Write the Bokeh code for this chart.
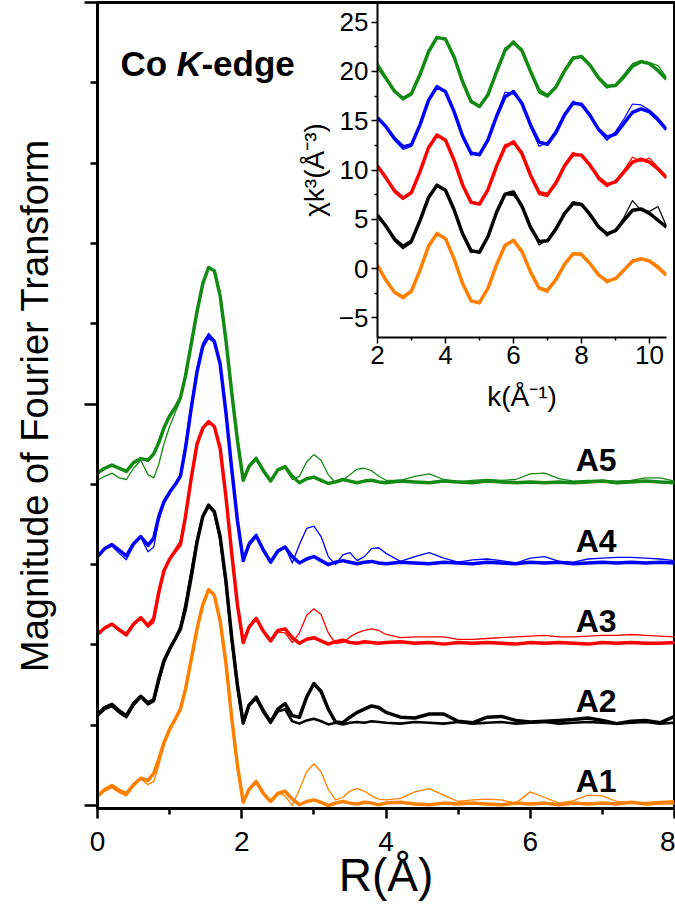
import numpy as np
from bokeh.plotting import figure
from bokeh.models import Range1d, FixedTicker, Label
from bokeh.layouts import column
from bokeh.embed import file_html
from bokeh.resources import INLINE
from bokeh.core.properties import value

FONT = "Liberation Sans"

# ---------------- main plot data: |FT| vs R (relative to each curve's baseline) ----------------
R = [0.0, 0.1, 0.2, 0.3, 0.4, 0.5, 0.6, 0.7, 0.78, 0.85, 0.92, 1.0, 1.08, 1.15, 1.22, 1.3, 1.38, 1.46, 1.54, 1.62,
     1.7, 1.78, 1.86, 1.94, 2.02,
     2.1, 2.2, 2.3, 2.4, 2.5, 2.6, 2.7, 2.8, 2.9, 3.0, 3.1, 3.2, 3.3, 3.4, 3.5, 3.6, 3.7, 3.8, 3.9, 4.0,
     4.2, 4.4, 4.6, 4.8, 5.0, 5.2, 5.4, 5.6, 5.8, 6.0, 6.2, 6.4, 6.6, 6.8, 7.0, 7.2, 7.4, 7.6, 7.8, 8.0]

A1_thick = [0.12, 0.2, 0.25, 0.19, 0.15, 0.26, 0.34, 0.31, 0.40, 0.58, 0.78, 0.95, 1.08, 1.2, 1.45, 1.82, 2.2, 2.5, 2.69, 2.62,
            2.3, 1.78, 1.1, 0.5, 0.04,
            0.2, 0.3, 0.15, 0.05, 0.15, 0.18, 0.08, 0.01, 0.05, 0.07, 0.04, 0.0, 0.03, 0.05, 0.03, 0.02, 0.04, 0.03, 0.01, 0.03,
            0.04, 0.02, 0.01, 0.03, 0.02, 0.03, 0.02, 0.01, 0.03, 0.02, 0.03, 0.01, 0.03, 0.02, 0.03, 0.02, 0.04, 0.02, 0.03, 0.03]
A1_thin = [0.1, 0.18, 0.22, 0.16, 0.12, 0.24, 0.33, 0.26, 0.30, 0.5, 0.74, 0.93, 1.07, 1.2, 1.47, 1.85, 2.22, 2.52, 2.7, 2.63,
           2.3, 1.78, 1.1, 0.5, 0.05,
           0.2, 0.28, 0.14, 0.06, 0.16, 0.12, 0.0, 0.2, 0.42, 0.52, 0.42, 0.2, 0.07, 0.1, 0.18, 0.21, 0.18, 0.12, 0.08, 0.07,
           0.09, 0.17, 0.21, 0.13, 0.05, 0.07, 0.08, 0.07, 0.03, 0.17, 0.1, 0.03, 0.06, 0.13, 0.12, 0.05, 0.03, 0.04, 0.05, 0.06]

A2_thick = [0.13, 0.22, 0.26, 0.18, 0.12, 0.27, 0.36, 0.28, 0.32, 0.58, 0.8, 0.95, 1.08, 1.2, 1.45, 1.85, 2.28, 2.6, 2.74, 2.66,
            2.35, 1.8, 1.1, 0.5, 0.03,
            0.25, 0.35, 0.18, 0.04, 0.2, 0.27, 0.12, 0.1, 0.35, 0.52, 0.42, 0.2, 0.04, 0.03, 0.1, 0.16, 0.2, 0.24, 0.22, 0.16,
            0.1, 0.09, 0.14, 0.14, 0.05, 0.03, 0.1, 0.11, 0.06, 0.04, 0.05, 0.06, 0.07, 0.09, 0.06, 0.02, 0.05, 0.06, 0.03, 0.11]
A2_thin = [0.12, 0.2, 0.24, 0.16, 0.1, 0.25, 0.35, 0.26, 0.3, 0.55, 0.78, 0.94, 1.08, 1.22, 1.5, 1.9, 2.3, 2.6, 2.73, 2.65,
           2.33, 1.78, 1.08, 0.48, 0.02,
           0.24, 0.33, 0.16, 0.03, 0.17, 0.2, 0.05, 0.02, 0.06, 0.08, 0.05, 0.01, 0.03, 0.01, 0.03, 0.04, 0.03, 0.05, 0.04, 0.03,
           0.02, 0.04, 0.03, 0.02, 0.04, 0.02, 0.03, 0.04, 0.02, 0.03, 0.04, 0.02, 0.03, 0.04, 0.03, 0.02, 0.03, 0.04, 0.02, 0.03]

A3_thick = [0.13, 0.21, 0.26, 0.19, 0.13, 0.26, 0.34, 0.24, 0.33, 0.66, 0.92, 1.07, 1.17, 1.25, 1.6, 2.08, 2.5, 2.7, 2.78, 2.72,
            2.45, 1.85, 1.15, 0.5, 0.03,
            0.22, 0.33, 0.17, 0.05, 0.18, 0.2, 0.09, 0.02, 0.07, 0.09, 0.05, 0.01, 0.04, 0.06, 0.03, 0.02, 0.04, 0.03, 0.02, 0.03,
            0.04, 0.02, 0.03, 0.01, 0.03, 0.02, 0.03, 0.02, 0.01, 0.03, 0.02, 0.03, 0.02, 0.01, 0.03, 0.02, 0.03, 0.02, 0.02, 0.03]
A3_thin = [0.12, 0.2, 0.25, 0.17, 0.11, 0.24, 0.33, 0.22, 0.28, 0.6, 0.9, 1.08, 1.2, 1.3, 1.62, 2.1, 2.5, 2.71, 2.79, 2.72,
           2.44, 1.84, 1.13, 0.49, 0.04,
           0.24, 0.34, 0.18, 0.06, 0.16, 0.15, 0.03, 0.15, 0.37, 0.45, 0.38, 0.15, 0.02, 0.03, 0.1, 0.15, 0.18, 0.2, 0.18, 0.13,
           0.09, 0.1, 0.1, 0.1, 0.07, 0.07, 0.08, 0.09, 0.1, 0.11, 0.12, 0.1, 0.1, 0.11, 0.12, 0.12, 0.13, 0.12, 0.11, 0.1]

A4_thick = [0.10, 0.2, 0.25, 0.18, 0.11, 0.26, 0.35, 0.24, 0.33, 0.6, 0.78, 0.9, 1.0, 1.1, 1.45, 1.95, 2.4, 2.72, 2.84, 2.78,
            2.5, 1.9, 1.2, 0.55, 0.05,
            0.25, 0.36, 0.18, 0.03, 0.17, 0.22, 0.1, 0.02, 0.07, 0.1, 0.05, 0.0, 0.03, 0.05, 0.03, 0.01, 0.03, 0.04, 0.02, 0.01,
            0.03, 0.02, 0.01, 0.03, 0.02, 0.01, 0.03, 0.02, 0.01, 0.03, 0.02, 0.03, 0.01, 0.02, 0.03, 0.02, 0.03, 0.02, 0.03, 0.02]
A4_thin = [0.09, 0.19, 0.23, 0.14, 0.06, 0.24, 0.34, 0.16, 0.22, 0.55, 0.76, 0.9, 1.02, 1.13, 1.5, 2.0, 2.45, 2.76, 2.88, 2.8,
           2.5, 1.88, 1.18, 0.53, 0.07,
           0.28, 0.38, 0.2, 0.05, 0.15, 0.22, 0.02, 0.25, 0.45, 0.48, 0.35, 0.1, 0.0, 0.12, 0.15, 0.05, 0.1, 0.2, 0.21, 0.14,
           0.04, 0.1, 0.15, 0.08, 0.03, 0.06, 0.07, 0.05, 0.02, 0.08, 0.1, 0.04, 0.03, 0.07, 0.08, 0.09, 0.09, 0.08, 0.07, 0.05]

A5_thick = [0.14, 0.2, 0.24, 0.2, 0.16, 0.27, 0.32, 0.3, 0.38, 0.52, 0.7, 0.85, 0.96, 1.08, 1.35, 1.75, 2.15, 2.5, 2.7, 2.66,
            2.35, 1.8, 1.15, 0.55, 0.05,
            0.22, 0.32, 0.17, 0.04, 0.18, 0.22, 0.1, 0.02, 0.07, 0.09, 0.05, 0.01, 0.03, 0.06, 0.04, 0.02, 0.04, 0.05, 0.03, 0.02,
            0.04, 0.03, 0.02, 0.04, 0.03, 0.02, 0.04, 0.03, 0.02, 0.03, 0.02, 0.03, 0.02, 0.03, 0.04, 0.02, 0.03, 0.04, 0.03, 0.02]
A5_thin = [0.05, 0.1, 0.14, 0.08, 0.06, 0.2, 0.3, 0.12, 0.08, 0.25, 0.5, 0.72, 0.9, 1.05, 1.33, 1.75, 2.15, 2.5, 2.7, 2.66,
           2.35, 1.8, 1.15, 0.55, 0.06,
           0.24, 0.34, 0.19, 0.06, 0.17, 0.2, 0.06, 0.1, 0.28, 0.37, 0.3, 0.12, 0.02, 0.05, 0.12, 0.19, 0.2, 0.17, 0.1, 0.05,
           0.05, 0.1, 0.13, 0.06, 0.03, 0.05, 0.06, 0.05, 0.06, 0.13, 0.14, 0.07, 0.04, 0.05, 0.05, 0.04, 0.05, 0.08, 0.08, 0.04]

SAMPLES = ["A1", "A2", "A3", "A4", "A5"]
OFFSETS = [0, 1, 2, 3, 4]
COLORS = ["#ff8000", "#000000", "#ff0000", "#0000ff", "#138a13"]
THICK = [A1_thick, A2_thick, A3_thick, A4_thick, A5_thick]
THIN = [A1_thin, A2_thin, A3_thin, A4_thin, A5_thin]

# ---------------- inset data: chi(k)*k^3 ----------------
K = [2.0, 2.25, 2.5, 2.75, 3.0, 3.25, 3.5, 3.75, 4.0, 4.25, 4.5, 4.75, 5.0, 5.25, 5.5, 5.75, 6.0, 6.25, 6.5, 6.75,
     7.0, 7.25, 7.5, 7.75, 8.0, 8.25, 8.5, 8.75, 9.0, 9.25, 9.5, 9.75, 10.0, 10.25, 10.5]

K_A1_thick = [0.3, -1.2, -2.4, -2.9, -2.28, -0.16, 2.26, 3.56, 3.03, 1.01, -1.49, -3.28, -3.46, -1.98, 0.37, 2.33, 2.86, 1.72,
              -0.34, -1.99, -2.19, -1.13, 0.43, 1.49, 1.42, 0.51, -0.64, -1.28, -1.03, -0.15, 0.73, 0.99, 0.75, 0.1, -0.7]
K_A1_thin = [0.5, -1.1, -2.5, -3.1, -2.4, -0.1, 2.3, 3.35, 3.1, 1.1, -1.5, -3.4, -3.6, -2.0, 0.5, 2.5, 2.7, 1.9,
             -0.2, -2.1, -2.45, -1.0, 0.6, 1.55, 1.6, 0.4, -0.5, -1.5, -0.9, -0.1, 0.9, 0.85, 0.9, 0.3, -0.5]
K_A2_thick = [5.4, 4.3, 3.0, 2.25, 2.80, 4.86, 7.20, 8.46, 7.94, 5.99, 3.55, 1.82, 1.66, 3.25, 5.69, 7.55, 7.76, 6.31,
              4.19, 2.74, 2.82, 4.02, 5.58, 6.6, 6.51, 5.49, 4.23, 3.52, 3.84, 4.92, 5.91, 6.05, 5.6, 4.9, 4.2]
K_A2_thin = [5.5, 4.2, 2.8, 2.0, 2.6, 4.9, 7.3, 8.3, 8.0, 6.1, 3.4, 1.6, 1.8, 3.3, 5.8, 7.5, 7.4, 6.5,
             4.3, 2.4, 2.9, 4.2, 5.5, 6.8, 6.6, 5.3, 4.4, 3.3, 3.9, 5.2, 6.9, 5.9, 5.8, 6.3, 4.3]
K_A3_thick = [10.4, 9.2, 7.9, 7.15, 7.72, 9.84, 12.26, 13.56, 13.03, 11.01, 8.51, 6.72, 6.54, 8.02, 10.37, 12.33, 12.86, 11.65,
              9.47, 7.73, 7.52, 8.69, 10.41, 11.58, 11.51, 10.49, 9.23, 8.52, 8.80, 9.8, 10.80, 11.09, 10.8, 10.1, 9.2]
K_A3_thin = [10.5, 9.1, 7.7, 7.0, 7.6, 9.9, 12.4, 13.4, 13.1, 11.1, 8.4, 6.6, 6.6, 8.1, 10.5, 12.6, 12.7, 11.9,
             9.4, 7.5, 7.3, 8.8, 10.6, 11.8, 11.4, 10.6, 9.0, 8.3, 8.9, 10.0, 11.3, 10.9, 11.2, 10.3, 9.4]
K_A4_thick = [15.3, 14.4, 13.2, 12.35, 12.58, 14.58, 17.07, 18.46, 17.94, 15.95, 13.48, 11.72, 11.55, 13.05, 15.43, 17.43, 17.96, 16.75,
              14.57, 12.83, 12.62, 13.82, 15.58, 16.78, 16.68, 15.54, 14.12, 13.33, 13.64, 14.75, 15.86, 16.2, 15.9, 15.1, 14.1]
K_A4_thin = [15.4, 14.3, 13.0, 12.1, 12.4, 14.6, 17.2, 18.3, 18.0, 16.1, 13.4, 11.5, 11.7, 13.2, 15.6, 17.9, 17.7, 16.9,
             14.4, 12.4, 12.8, 14.0, 15.7, 17.0, 16.5, 15.7, 14.0, 13.0, 13.9, 15.2, 16.7, 16.6, 16.1, 15.3, 14.2]
K_A5_thick = [20.5, 19.3, 18.0, 17.25, 17.76, 19.69, 22.0, 23.46, 23.28, 21.49, 18.98, 16.97, 16.44, 17.64, 19.95, 22.12, 23.0, 22.11,
              20.02, 18.08, 17.53, 18.43, 20.05, 21.35, 21.51, 20.64, 19.36, 18.49, 18.57, 19.47, 20.54, 21.0, 20.8, 20.1, 19.2]
K_A5_thin = [20.9, 19.5, 18.1, 17.1, 17.6, 19.8, 22.1, 23.3, 23.4, 21.6, 18.9, 16.8, 16.5, 17.8, 20.1, 22.4, 22.9, 22.3,
             19.9, 17.8, 17.4, 18.6, 20.2, 21.5, 21.4, 20.7, 19.2, 18.3, 18.7, 19.7, 20.8, 21.1, 20.9, 20.6, 19.4]

K_THICK = [K_A1_thick, K_A2_thick, K_A3_thick, K_A4_thick, K_A5_thick]
K_THIN = [K_A1_thin, K_A2_thin, K_A3_thin, K_A4_thin, K_A5_thin]

R_TICKS = [0, 2, 4, 6, 8]
R_MINOR = [1, 3, 5, 7]
Y_TICKS = [0, 5, 10]
Y_MINOR = [1, 2, 3, 4, 6, 7, 8, 9]
K_TICKS = [2, 4, 6, 8, 10]
K_MINOR = [3, 5, 7, 9]
CHI_TICKS = [-5, 0, 5, 10, 15, 20, 25]
CHI_MINOR = [-2.5, 2.5, 7.5, 12.5, 17.5, 22.5]

# ---------------- main figure ----------------
p = figure(frame_width=577, frame_height=806, x_range=Range1d(0, 8), y_range=Range1d(-0.037, 10.0),
           output_backend="svg", toolbar_location=None,
           min_border_left=89, min_border_right=9, min_border_top=2, min_border_bottom=98)
p.xgrid.visible = False
p.ygrid.visible = False
p.outline_line_color = "black"
p.outline_line_width = 3
p.background_fill_color = "white"
p.border_fill_color = "white"

xa = p.xaxis[0]
xa.ticker = FixedTicker(ticks=R_TICKS, minor_ticks=R_MINOR)
xa.axis_line_width = 3
xa.major_tick_line_width = 2.5
xa.minor_tick_line_width = 2.5
xa.major_tick_out = 10
xa.major_tick_in = 0
xa.minor_tick_out = 6
xa.minor_tick_in = 0
xa.major_label_text_font = FONT
xa.major_label_text_font_size = "28px"
xa.major_label_text_color = "black"
xa.major_label_standoff = 13
xa.axis_label = "R(Å)"
xa.axis_label_text_font = FONT
xa.axis_label_text_font_size = "46px"
xa.axis_label_text_font_style = "normal"
xa.axis_label_text_color = "black"
xa.axis_label_standoff = -5

ya = p.yaxis[0]
ya.ticker = FixedTicker(ticks=Y_TICKS, minor_ticks=Y_MINOR)
ya.axis_line_width = 3
ya.major_tick_line_width = 2.5
ya.minor_tick_line_width = 2.5
ya.major_tick_out = 13
ya.major_tick_in = 0
ya.minor_tick_out = 7
ya.minor_tick_in = 0
ya.major_label_overrides = {0: "", 5: "", 10: ""}
ya.major_label_standoff = 0
ya.axis_label = "Magnitude of Fourier Transform"
ya.axis_label_text_font = FONT
ya.axis_label_text_font_size = "38px"
ya.axis_label_text_font_style = "normal"
ya.axis_label_text_color = "black"
ya.axis_label_standoff = 29

for i in range(5):
    off = OFFSETS[i]
    thin_w = 2.6 if i == 1 else 1.3
    p.line(R, np.array(THIN[i]) + off, line_color=COLORS[i], line_width=thin_w, line_join="round")
    p.line(R, np.array(THICK[i]) + off, line_color=COLORS[i], line_width=3.5, line_join="round")

p.text(x=[6.63] * 5, y=[o + 0.30 for o in OFFSETS], text=SAMPLES,
       text_font=value(FONT), text_font_style="bold", text_font_size="32px",
       text_baseline="alphabetic", text_align="left", text_color="black")

for txt, style, dx in [("Co", "bold", 0), ("K", "bold italic", 56), ("-edge", "bold", 81)]:
    p.add_layout(Label(x=0.318, y=9.24, x_offset=dx, text=txt, text_font=FONT, text_font_style=style,
                       text_font_size="35px", text_baseline="alphabetic", text_align="left", text_color="black"))

# ---------------- inset figure ----------------
ins = figure(frame_width=289, frame_height=335, x_range=Range1d(2, 10.5), y_range=Range1d(-7, 27),
             output_backend="svg", toolbar_location=None,
             min_border_left=97, min_border_right=1, min_border_top=2, min_border_bottom=60)
ins.background_fill_color = None
ins.border_fill_color = None
ins.outline_line_color = None
ins.xgrid.visible = False
ins.ygrid.visible = False

for ax, tk, mn in [(ins.xaxis[0], K_TICKS, K_MINOR), (ins.yaxis[0], CHI_TICKS, CHI_MINOR)]:
    ax.ticker = FixedTicker(ticks=tk, minor_ticks=mn)
    ax.axis_line_width = 2
    ax.major_tick_line_width = 1.5
    ax.minor_tick_line_width = 1.5
    ax.major_tick_out = 6
    ax.major_tick_in = 0
    ax.minor_tick_out = 3
    ax.minor_tick_in = 0
    ax.major_label_text_font = FONT
    ax.major_label_text_font_size = "26px"
    ax.major_label_text_color = "black"
    ax.axis_label_text_font = FONT
    ax.axis_label_text_font_size = "28px"
    ax.axis_label_text_font_style = "normal"
    ax.axis_label_text_color = "black"

ins.xaxis[0].axis_label = "k(Å⁻¹)"
ins.xaxis[0].major_label_standoff = 2
ins.xaxis[0].axis_label_standoff = 14
ins.yaxis[0].axis_label = "χk³(Å⁻³)"
ins.yaxis[0].major_label_standoff = 3
ins.yaxis[0].axis_label_standoff = 6

for i in range(5):
    ins.line(K, K_THIN[i], line_color=COLORS[i], line_width=1.2, line_join="round")
    ins.line(K, K_THICK[i], line_color=COLORS[i], line_width=3.5, line_join="round")

ins.styles = {"position": "absolute", "left": "280px", "top": "0px", "z-index": "5"}

layout = column(p, ins)

open("out.html", "w").write(file_html(layout, INLINE))
